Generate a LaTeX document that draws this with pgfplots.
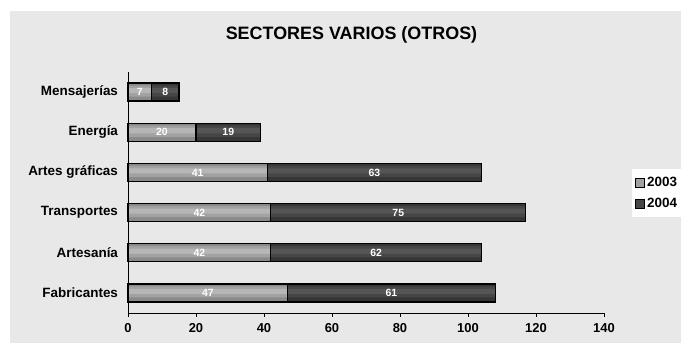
\documentclass[border=0pt]{standalone}
\usepackage{pgfplots}
\pgfplotsset{compat=1.18}
\usepackage{pgfplotstable}
\usepackage{fontspec}
\setmainfont{Liberation Sans}
\definecolor{bg}{HTML}{E8E8E8}
\definecolor{aBase}{HTML}{8A8A8A}
\definecolor{aB1}{HTML}{A2A2A2}
\definecolor{aB2}{HTML}{B6B6B6}
\definecolor{bBase}{HTML}{363636}
\definecolor{bB1}{HTML}{464646}
\definecolor{bB2}{HTML}{555555}
\pgfplotstableread{
idx a b
0 47 61
1 42 62
2 42 75
3 41 63
4 20 19
5 7 8
}\datatable
\begin{document}
\begin{tikzpicture}
\fill[bg] (-118bp,-30bp) rectangle (553bp,302bp);
\begin{axis}[
  at={(0,0)}, anchor=south west,
  scale only axis, width=476bp, height=241bp,
  xmin=0, xmax=140, ymin=-0.5, ymax=5.5,
  /pgf/number format/assume math mode=true,
  axis x line*=bottom, axis y line*=left,
  axis line style={black, line width=0.8bp},
  xtick={0,20,...,140}, ytick={0,...,5},
  yticklabels={Fabricantes,Artesanía,Transportes,Artes gráficas,Energía,Mensajerías},
  tick align=outside,
  major tick length=4bp,
  x tick style={black, line width=0.8bp},
  y tick style={draw=none},
  ticklabel style={font=\bfseries\fontsize{13}{13}\selectfont},
  xticklabel style={yshift=-2.5bp},
  yticklabel style={xshift=-2.5bp, font=\bfseries\fontsize{13.5}{13.5}\selectfont},
  legend style={at={(1.0588,0.5975)}, anchor=north west, draw=none, fill=white,
    font=\bfseries\fontsize{13.5}{13.5}\selectfont, inner xsep=3bp, inner ysep=6bp, row sep=6bp},
  legend cell align=left,
  legend image code/.code={\draw[#1] (0bp,-4.5bp) rectangle (9bp,4.5bp);},
  clip=false,
]
% 2004 (drawn over full length, 2003 covers its left part)
\addplot[xbar, bar width=18bp, bar shift=0pt, draw=none, fill=bBase, forget plot]
  table[x expr=\thisrow{a}+\thisrow{b}, y=idx] {\datatable};
\addplot[xbar, bar width=11bp, bar shift=1bp, draw=none, fill=bB1, forget plot]
  table[x expr=\thisrow{a}+\thisrow{b}, y=idx] {\datatable};
\addplot[xbar, bar width=5bp, bar shift=1.5bp, draw=none, fill=bB2, forget plot]
  table[x expr=\thisrow{a}+\thisrow{b}, y=idx] {\datatable};
% 2003
\addplot[xbar, bar width=18bp, bar shift=0pt, draw=none, fill=aBase, forget plot]
  table[x=a, y=idx] {\datatable};
\addplot[xbar, bar width=11bp, bar shift=1bp, draw=none, fill=aB1, forget plot]
  table[x=a, y=idx] {\datatable};
\addplot[xbar, bar width=5bp, bar shift=1.5bp, draw=none, fill=aB2, forget plot]
  table[x=a, y=idx] {\datatable};
% outlines
\addplot[xbar, bar width=18bp, bar shift=0pt, draw=black, line width=1.2bp, fill=none, forget plot]
  table[x expr=\thisrow{a}+\thisrow{b}, y=idx] {\datatable};
\addplot[xbar, bar width=18bp, bar shift=0pt, draw=black, line width=1.2bp, fill=none, forget plot]
  table[x=a, y=idx] {\datatable};
% value labels
\addplot[draw=none, mark=none, nodes near coords, point meta=explicit,
  nodes near coords style={white, anchor=center, font=\bfseries\fontsize{10.5}{10.5}\selectfont}, forget plot]
  table[x expr=\thisrow{a}/2, y=idx, meta=a] {\datatable};
\addplot[draw=none, mark=none, nodes near coords, point meta=explicit,
  nodes near coords style={white, anchor=center, font=\bfseries\fontsize{10.5}{10.5}\selectfont}, forget plot]
  table[x expr=\thisrow{a}+\thisrow{b}/2, y=idx, meta=b] {\datatable};
\addlegendimage{draw=black, line width=1bp, fill=aB1}
\addlegendentry{2003}
\addlegendimage{draw=black, line width=1bp, fill=bB1}
\addlegendentry{2004}
\node[font=\bfseries\fontsize{18}{18}\selectfont, anchor=center] at (rel axis cs:0.4695,1.153) {SECTORES VARIOS (OTROS)};
\end{axis}
\pgfresetboundingbox
\path[use as bounding box] (-128bp,-40bp) rectangle (553bp,313bp);
\end{tikzpicture}
\end{document}
